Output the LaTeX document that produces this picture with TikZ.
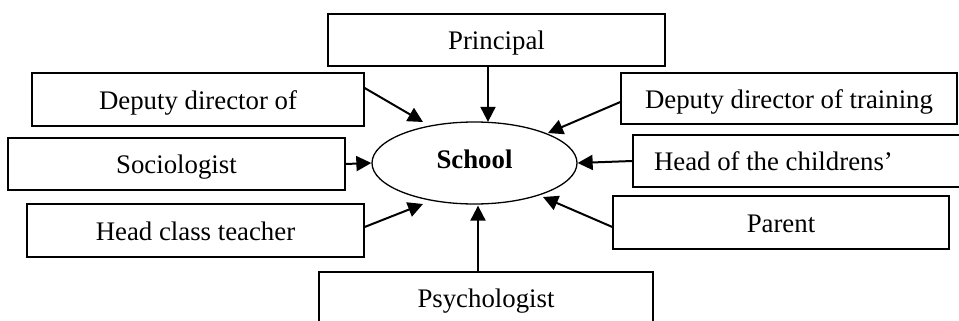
\documentclass[tikz,border=0pt]{standalone}
\usepackage{fontspec}
\setmainfont{Liberation Serif}
\usetikzlibrary{arrows.meta,calc,shapes.geometric}
\begin{document}
\begin{tikzpicture}[x=0.5pt,y=-0.5pt,
  font=\fontsize{13.4}{16}\selectfont,
  box/.style={draw,line width=0.65pt,rectangle,inner sep=0pt,text height=9.5pt,text depth=0pt},
  arr/.style={line width=1pt,-{Triangle[length=7.5pt,width=7.5pt]}}]
\useasboundingbox (0,0) rectangle (959,321);
\clip (0,0) rectangle (959,321);
% boxes
\node[box,minimum width=168.5pt,minimum height=26pt] (pr) at (496.5,40) {Principal};
\node[box,minimum width=166pt,minimum height=26.5pt] (dl) at (198,99.5) {Deputy director of};
\node[box,minimum width=168.5pt,minimum height=26pt] (soc) at (176.5,164) {Sociologist};
\node[box,minimum width=168.5pt,minimum height=26.5pt] (hc) at (195.5,230.5) {Head class teacher};
\node[box,minimum width=168pt,minimum height=25.5pt] (dt) at (789,98.5) {Deputy director of training};
\node[box,minimum width=176pt,minimum height=26pt] (hoc) at (809,161) {\makebox[155pt][l]{Head of the childrens'}};
\node[box,minimum width=168pt,minimum height=26.5pt] (par) at (781,222.5) {Parent};
\node[box,minimum width=167pt,minimum height=26pt] (psy) at (486,298) {Psychologist};
% centre
\node[draw,ellipse,line width=0.65pt,minimum width=102.5pt,minimum height=41pt,inner sep=0pt,text height=9pt,text depth=4pt,font=\fontsize{13.4}{16}\selectfont\bfseries] (school) at (474.5,163) {School};
% connectors
\draw[arr] ($(pr.south)+(-8.5,0)$) -- ($(school.north)+(13.5,0.5)$);
\draw[arr] ($(dl.east)+(0,-11.5)$) -- ($(school.center)+(-51.5,-41)$);
\draw[arr] (soc.east) -- (school.west);
\draw[arr] ($(hc.east)+(0,-3.5)$) -- ($(school.center)+(-51.5,41)$);
\draw[arr] ($(psy.north)+(-8,0)$) -- ($(school.south)+(3.5,1)$);
\draw[arr] ($(par.west)+(0,4.5)$) -- ($(school.center)+(68.5,34)$);
\draw[arr] (hoc.west) -- (school.east);
\draw[arr] ($(dt.west)+(0,3.5)$) -- ($(school.center)+(73.5,-30)$);
\end{tikzpicture}
\end{document}
